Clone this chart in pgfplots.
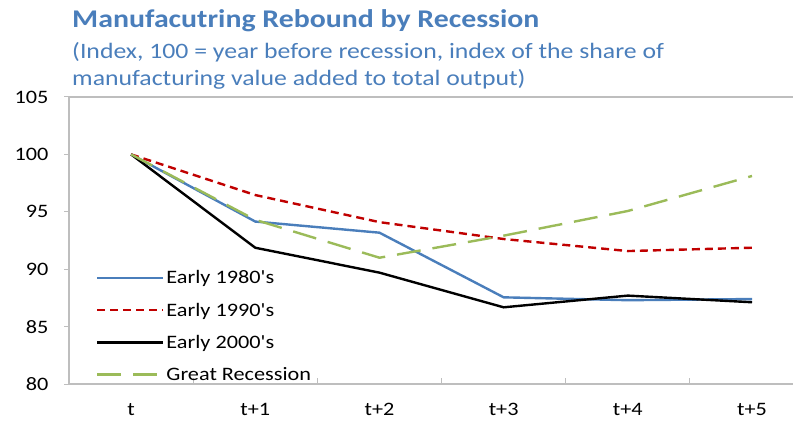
\documentclass[border=0pt]{standalone}
\usepackage{pgfplots}
\pgfplotsset{compat=1.18}
\usepackage{fontspec}
\setmainfont{Carlito}[FakeStretch=1.17, Ligatures=TeXOff]
\definecolor{ttl}{RGB}{74,126,187}
\definecolor{c80}{RGB}{74,126,187}
\definecolor{c90}{RGB}{192,0,0}
\definecolor{gr}{RGB}{155,187,89}
\definecolor{axg}{RGB}{190,190,190}
\begin{document}
\begin{tikzpicture}
\useasboundingbox (0,0) rectangle (800pt,426pt);
\node[anchor=base west, font=\fontsize{25.5}{28}\selectfont\bfseries, text=ttl, inner sep=0pt] at (72pt,398pt) {Manufacutring Rebound by Recession};
\node[anchor=base west, font=\fontsize{22}{24}\selectfont, text=ttl, inner sep=0pt] at (72pt,367pt) {(Index, 100 = year before recession, index of the share of};
\node[anchor=base west, font=\fontsize{22}{24}\selectfont, text=ttl, inner sep=0pt] at (72pt,340pt) {manufacturing value added to total output)};
\begin{axis}[
  at={(69pt,42pt)}, anchor=south west,
  scale only axis,
  width=724pt, height=287pt,
  xmin=-0.5, xmax=5.33,
  ymin=80, ymax=105,
  ytick={80,85,...,105},
  xtick={0,...,5},
  xticklabels={t,t+1,t+2,t+3,t+4,t+5},
  axis x line*=bottom, axis y line*=left,
  axis line style={axg, line width=1.2pt},
  x axis line style={-}, y axis line style={-},
  major tick length=0pt,
  tick label style={font=\fontsize{19}{21}\selectfont, text=black},
  xticklabel style={yshift=-16pt},
  yticklabel style={xshift=-17pt},
  /pgf/number format/assume math mode=true,
  legend cell align={left},
  legend style={draw=none, fill=none, at={(0.037,0.0)}, anchor=south west,
    font=\fontsize{19}{21}\selectfont, row sep=13.5pt, inner sep=0pt},
  legend image code/.code={\path (0pt,0pt) -- (66pt,0pt);\draw[#1, line width=2.6pt] (0pt,0pt) -- (62pt,0pt);},
  clip=false,
]
\draw[axg, line width=1.2pt] (rel axis cs:0,1) -- (rel axis cs:1,1);
\pgfplotsinvokeforeach{0.5,1.5,2.5,3.5,4.5}{\draw[axg, line width=1pt] (axis cs:#1,80) -- ([yshift=6pt]axis cs:#1,80);}
\pgfplotsinvokeforeach{80,85,90,95,100,105}{\draw[axg, line width=1pt] (axis cs:-0.5,#1) -- ([xshift=-5pt]axis cs:-0.5,#1);}
\addplot[c80, line width=2.4pt] coordinates {(0,100) (1,94.15) (2,93.18) (3,87.55) (4,87.3) (5,87.4)};
\addlegendentry{Early 1980's}
\addplot[c90, line width=2.4pt, dash pattern=on 8pt off 5pt] coordinates {(0,100) (1,96.46) (2,94.1) (3,92.63) (4,91.58) (5,91.87)};
\addlegendentry{Early 1990's}
\addplot[black, line width=2.4pt] coordinates {(0,100) (1,91.87) (2,89.7) (3,86.68) (4,87.7) (5,87.12)};
\addlegendentry{Early 2000's}
\addplot[gr, line width=2.4pt, dash pattern=on 24pt off 12pt] coordinates {(0,100) (1,94.3) (2,91.0) (3,92.92) (4,95.07) (5,98.12)};
\addlegendentry{Great Recession}
\end{axis}
\end{tikzpicture}
\end{document}
